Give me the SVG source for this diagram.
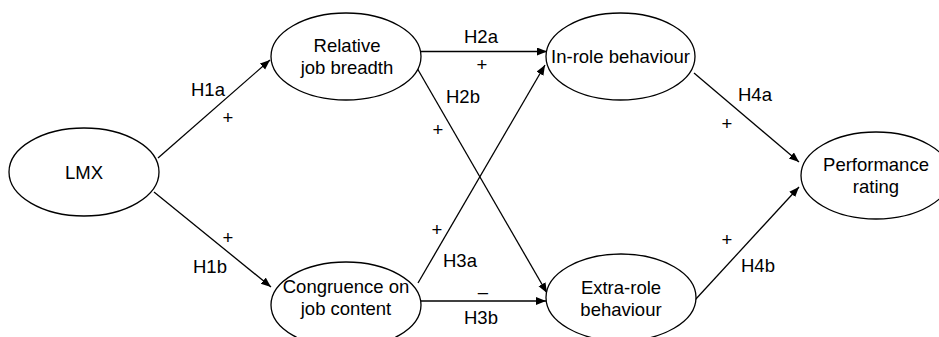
<svg xmlns="http://www.w3.org/2000/svg" width="939" height="337" viewBox="0 0 939 337">
<style>
.node{fill:#fff;stroke:#000;stroke-width:1.3}
.t{font-family:"Liberation Sans",Arial,Helvetica,sans-serif;font-size:18.5px;fill:#000;text-anchor:middle}
.l{font-family:"Liberation Sans",Arial,Helvetica,sans-serif;font-size:18.5px;fill:#000}
.c{stroke:#000;stroke-width:1.3;fill:none;marker-end:url(#ah)}
</style>
<defs>
<marker id="ah" markerUnits="userSpaceOnUse" markerWidth="12" markerHeight="10" refX="10" refY="4" orient="auto">
<path d="M0,0 L10,4 L0,8 z" fill="#000"/>
</marker>
</defs>
<rect width="939" height="337" fill="#fff"/>
<g id="connectors">
<line class="c" x1="158" y1="158" x2="270" y2="60"/>
<line class="c" x1="154" y1="192" x2="271" y2="287"/>
<line class="c" x1="421" y1="51.5" x2="547" y2="51.5"/>
<line class="c" x1="417" y1="68" x2="547" y2="293"/>
<line class="c" x1="418" y1="283" x2="545" y2="65"/>
<line class="c" x1="421" y1="301" x2="546" y2="301"/>
<line class="c" x1="694" y1="73" x2="799" y2="162"/>
<line class="c" x1="695" y1="300" x2="799" y2="187"/>
</g>
<g id="labels">
<text class="l" x="191" y="96">H1a</text>
<text class="t" x="228" y="124">+</text>
<text class="t" x="228" y="244">+</text>
<text class="l" x="193" y="273">H1b</text>
<text class="l" x="464" y="43">H2a</text>
<text class="t" x="482" y="71">+</text>
<text class="l" x="446" y="103">H2b</text>
<text class="t" x="438" y="136">+</text>
<text class="t" x="437" y="236">+</text>
<text class="l" x="443" y="267">H3a</text>
<text class="t" x="483" y="298">–</text>
<text class="l" x="464" y="324">H3b</text>
<text class="l" x="738" y="101">H4a</text>
<text class="t" x="727" y="130">+</text>
<text class="t" x="727" y="246">+</text>
<text class="l" x="741" y="272">H4b</text>
</g>
<g id="lmx">
<ellipse class="node" cx="84" cy="172" rx="75" ry="44"/>
<text class="t" x="84" y="179">LMX</text>
</g>
<g id="relative-job-breadth">
<ellipse class="node" cx="346" cy="56.5" rx="75" ry="43.5"/>
<text class="t" x="347" y="52">Relative</text>
<text class="t" x="347" y="74">job breadth</text>
</g>
<g id="congruence">
<ellipse class="node" cx="346" cy="305" rx="75" ry="43"/>
<text class="t" x="346" y="293">Congruence on</text>
<text class="t" x="346" y="315">job content</text>
</g>
<g id="in-role">
<ellipse class="node" cx="620.5" cy="56.5" rx="74.5" ry="43.5"/>
<text class="t" x="620.5" y="63">In-role behaviour</text>
</g>
<g id="extra-role">
<ellipse class="node" cx="621" cy="297.5" rx="75" ry="43.5"/>
<text class="t" x="621" y="294">Extra-role</text>
<text class="t" x="621" y="316">behaviour</text>
</g>
<g id="performance">
<ellipse class="node" cx="876" cy="175.5" rx="75" ry="43.5"/>
<text class="t" x="876" y="171">Performance</text>
<text class="t" x="876" y="193">rating</text>
</g>
</svg>
